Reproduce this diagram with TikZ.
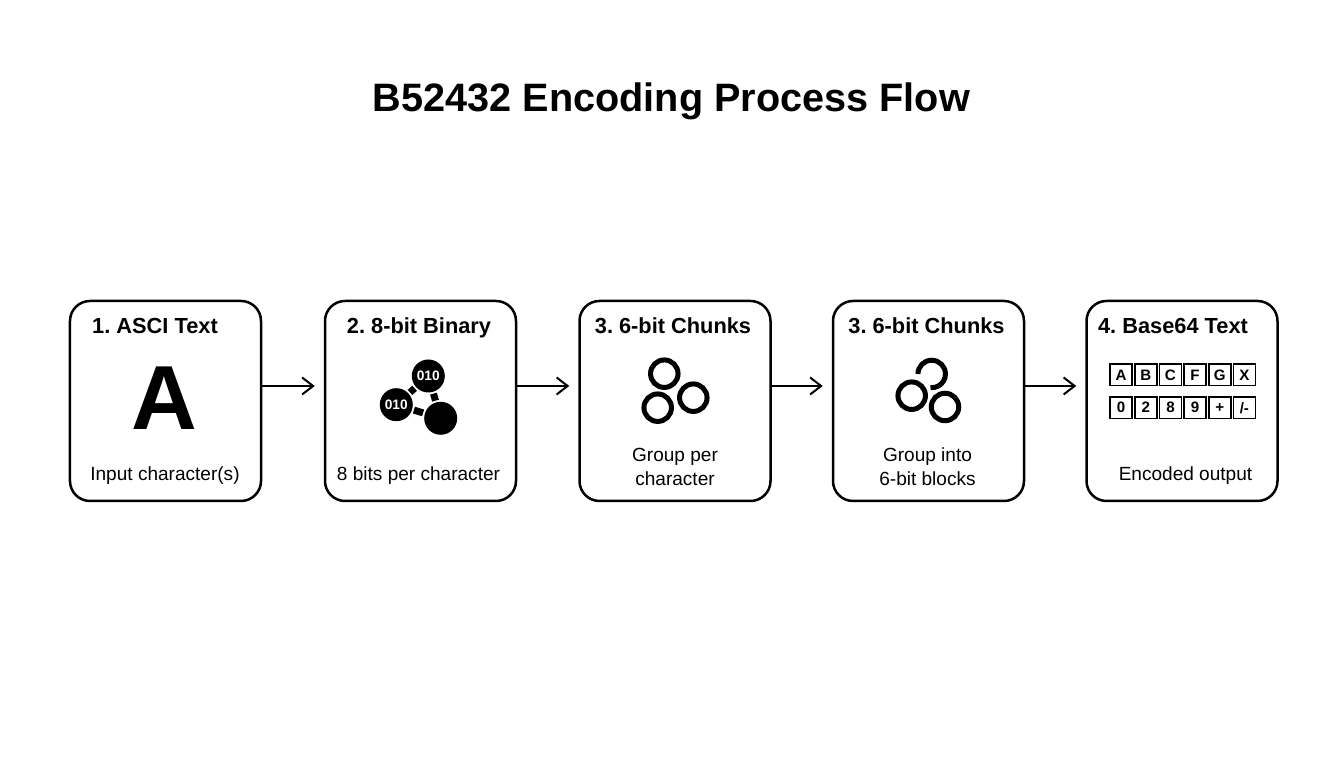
\documentclass[tikz,border=0pt]{standalone}
\usepackage{fontspec}
\setmainfont{Liberation Sans}
\usetikzlibrary{arrows.meta}

\tikzset{
  stepbox/.style={draw,line width=0.25mm,rounded corners=2mm,minimum width=1.91cm,minimum height=2cm},
  steptitle/.style={anchor=base,inner sep=0pt,font=\fontsize{6.2pt}{7pt}\selectfont\bfseries},
  steptext/.style={anchor=base,inner sep=0pt,align=center,font=\fontsize{5.42pt}{6.83pt}\selectfont},
  flowarrow/.style={line width=0.2mm,-{Straight Barb[length=1.1mm,width=1.7mm]},shorten >=0.9mm},
  bitnode/.style={circle,fill,inner sep=0pt,minimum size=3.3mm,text=white,font=\fontsize{3.9pt}{4pt}\selectfont\bfseries},
  bitlink/.style={line width=0.7mm,shorten >=0.12mm,shorten <=0.12mm},
  ringnode/.style={circle,draw,line width=0.5mm,inner sep=0pt,minimum size=2.75mm},
  charcell/.style={draw,line width=0.15mm,inner sep=0pt,minimum width=2.2mm,minimum height=2.15mm,font=\fontsize{4.3pt}{5pt}\selectfont\bfseries}
}

\begin{document}
\frenchspacing
\begin{tikzpicture}

      \useasboundingbox (0,0) rectangle (13.44,7.68);

      \node[anchor=base,inner sep=0pt,font=\fontsize{11.28pt}{13pt}\selectfont\bfseries] (maintitle) at (6.715,6.56) {B52432 Encoding Process Flow};

      \node[stepbox] (asciibox) at (1.655,3.67) {};
      \node[stepbox] (binarybox) at (4.205,3.67) {};
      \node[stepbox] (groupbox) at (6.75,3.67) {};
      \node[stepbox] (blockbox) at (9.285,3.67) {};
      \node[stepbox] (outputbox) at (11.82,3.67) {};

      \node[steptitle] (asciititle) at (1.55,4.34) {1. ASCI Text};
      \node[steptitle] (binarytitle) at (4.19,4.34) {2. 8-bit Binary};
      \node[steptitle] (grouptitle) at (6.73,4.34) {3. 6-bit Chunks};
      \node[steptitle] (blocktitle) at (9.265,4.34) {3. 6-bit Chunks};
      \node[steptitle] (outputtitle) at (11.73,4.34) {4. Base64 Text};

      \node[steptext] (asciitext) at (1.65,2.87) {Input character(s)};
      \node[steptext] (binarytext) at (4.185,2.87) {8 bits per character};
      \node[anchor=center,steptext] (grouptext) at (6.75,2.82) {Group per\\ character};
      \node[anchor=center,steptext] (blocktext) at (9.275,2.82) {Group into\\ 6-bit blocks};
      \node[steptext] (outputtext) at (11.855,2.87) {Encoded output};

      \node[anchor=base,inner sep=0pt,font=\fontsize{25.9pt}{26pt}\selectfont\bfseries] (bigletter) at (1.64,3.38) {A};

      \foreach \from/\to in {asciibox/binarybox,binarybox/groupbox,groupbox/blockbox,blockbox/outputbox}
        \draw[flowarrow] ([yshift=0.15cm]\from.east) -- ([yshift=0.15cm]\to.west);

      \node[bitnode] (bita) at (4.283,3.92) {010};
      \node[bitnode] (bitb) at (3.963,3.633) {010};
      \node[bitnode] (bitc) at (4.407,3.497) {};
      \draw[bitlink] (bita) -- (bitb);
      \draw[bitlink] (bitb) -- (bitc);
      \draw[bitlink] (bita) -- (bitc);

      \begin{scope}[every node/.style={ringnode}]
        \node (ringa) at (6.643,3.943) {};
        \node (ringb) at (6.933,3.703) {};
        \node (ringc) at (6.577,3.603) {};
        \node (ringe) at (9.117,3.723) {};
        \node (ringf) at (9.45,3.61) {};
      \end{scope}
      \coordinate (ringd) at (9.317,3.94);
      \draw[line width=0.5mm] ([xshift=-1.375mm]ringd) arc[start angle=180,end angle=-95,radius=1.375mm];

      \foreach \c [count=\i] in {A,B,C,F,G,X}
        \node[charcell] (upper\i) at (10.965+\i*0.2465,3.93) {\c};
      \foreach \c [count=\i] in {0,2,8,9,+,/-}
        \node[charcell] (lower\i) at (10.965+\i*0.2465,3.603) {\c};

\end{tikzpicture}
\end{document}
